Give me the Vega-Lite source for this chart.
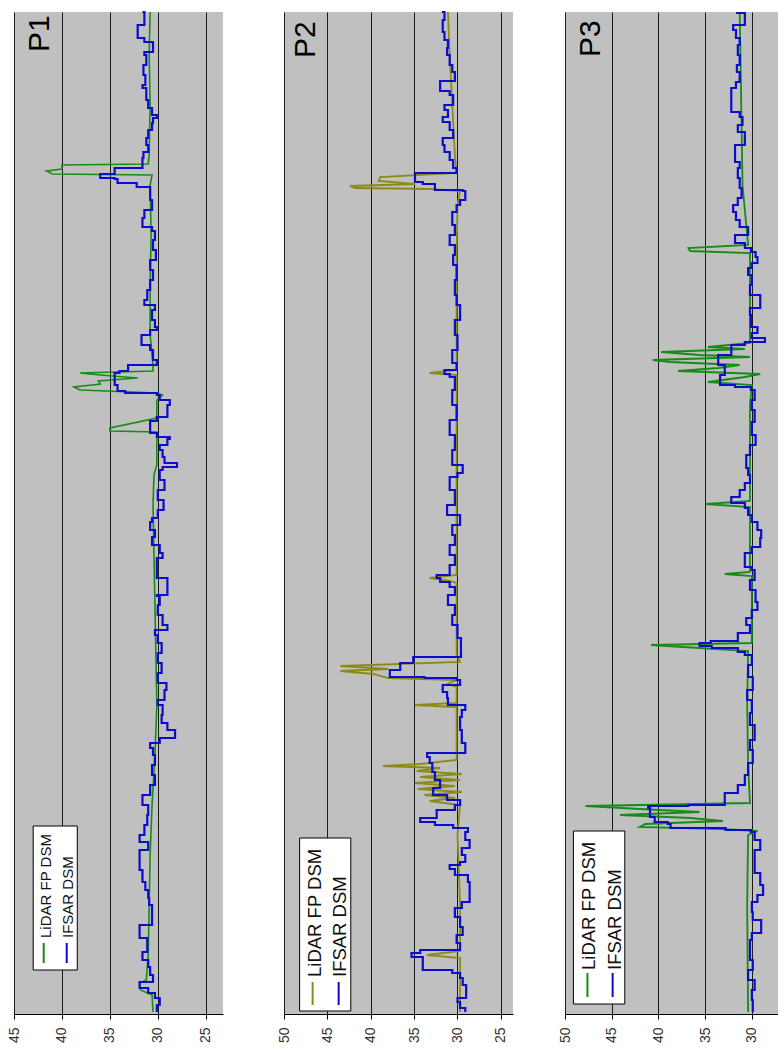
{
  "$schema": "https://vega.github.io/schema/vega-lite/v6.json",
  "background": "white",
  "autosize": {"type": "pad"},
  "padding": {"left": 7, "top": 7, "right": 0, "bottom": 0},
  "config": {
    "font": "Liberation Sans",
    "view": {"fill": "#c0c0c0", "stroke": null},
    "axisX": {
      "grid": true, "gridColor": "#1a1a1a", "gridWidth": 1, "gridOpacity": 1,
      "domainColor": "#000000", "tickColor": "#000000", "tickSize": 5,
      "labelAngle": 270, "labelFont": "Liberation Sans", "labelFontSize": 14,
      "labelColor": "#333333", "labelPadding": 8
    }
  },
  "datasets": {
    "p1_lidar": [
      {"dist": 1002, "elev": 30.8}, {"dist": 959, "elev": 30.9}, {"dist": 909, "elev": 30.8}, {"dist": 859, "elev": 30.9},
      {"dist": 850, "elev": 31.0}, {"dist": 849, "elev": 40.0}, {"dist": 845, "elev": 40.0}, {"dist": 843, "elev": 41.6},
      {"dist": 840, "elev": 41.0}, {"dist": 839, "elev": 30.6}, {"dist": 829, "elev": 30.8}, {"dist": 779, "elev": 30.7},
      {"dist": 729, "elev": 30.8}, {"dist": 679, "elev": 30.8}, {"dist": 649, "elev": 30.5}, {"dist": 643, "elev": 30.5},
      {"dist": 641, "elev": 38.1}, {"dist": 639, "elev": 36.0}, {"dist": 636, "elev": 32.1}, {"dist": 633, "elev": 36.2},
      {"dist": 630, "elev": 36.0}, {"dist": 627, "elev": 38.75}, {"dist": 624, "elev": 38.1}, {"dist": 621, "elev": 30.1},
      {"dist": 619, "elev": 29.5}, {"dist": 614, "elev": 30.1}, {"dist": 596, "elev": 30.1}, {"dist": 586, "elev": 35.0},
      {"dist": 583, "elev": 35.0}, {"dist": 582, "elev": 30.1}, {"dist": 549, "elev": 30.1}, {"dist": 539, "elev": 30.4},
      {"dist": 509, "elev": 30.5}, {"dist": 459, "elev": 30.4}, {"dist": 409, "elev": 30.3}, {"dist": 359, "elev": 30.2},
      {"dist": 309, "elev": 30.1}, {"dist": 259, "elev": 30.3}, {"dist": 209, "elev": 30.6}, {"dist": 159, "elev": 30.8},
      {"dist": 109, "elev": 30.9}, {"dist": 59, "elev": 31.0}, {"dist": 34, "elev": 31.2}, {"dist": 31, "elev": 31.9},
      {"dist": 24, "elev": 31.8}, {"dist": 19, "elev": 30.6}, {"dist": 2, "elev": 30.5}
    ],
    "p1_ifsar": [
      {"dist": 1002, "elev": 31.6}, {"dist": 999, "elev": 31.4}, {"dist": 989, "elev": 31.4}, {"dist": 982, "elev": 32.1},
      {"dist": 976, "elev": 32.1}, {"dist": 972, "elev": 31.4}, {"dist": 969, "elev": 30.5}, {"dist": 962, "elev": 30.5},
      {"dist": 959, "elev": 31.4}, {"dist": 949, "elev": 31.2}, {"dist": 939, "elev": 31.5}, {"dist": 929, "elev": 31.3},
      {"dist": 926, "elev": 31.6}, {"dist": 914, "elev": 31.2}, {"dist": 906, "elev": 31.0}, {"dist": 899, "elev": 30.6},
      {"dist": 896, "elev": 30.1}, {"dist": 891, "elev": 30.5}, {"dist": 884, "elev": 30.6}, {"dist": 876, "elev": 31.0},
      {"dist": 869, "elev": 31.2}, {"dist": 862, "elev": 31.0}, {"dist": 856, "elev": 31.5}, {"dist": 849, "elev": 31.6},
      {"dist": 846, "elev": 31.6}, {"dist": 845, "elev": 34.5}, {"dist": 840, "elev": 34.5}, {"dist": 839, "elev": 36.0},
      {"dist": 836, "elev": 36.0}, {"dist": 835, "elev": 34.5}, {"dist": 831, "elev": 34.2}, {"dist": 829, "elev": 32.2},
      {"dist": 827, "elev": 32.2}, {"dist": 826, "elev": 30.8}, {"dist": 814, "elev": 30.8}, {"dist": 804, "elev": 30.6},
      {"dist": 796, "elev": 31.4}, {"dist": 787, "elev": 31.6}, {"dist": 783, "elev": 30.6}, {"dist": 774, "elev": 30.3},
      {"dist": 764, "elev": 30.5}, {"dist": 754, "elev": 30.2}, {"dist": 744, "elev": 30.8}, {"dist": 734, "elev": 30.5},
      {"dist": 724, "elev": 30.8}, {"dist": 714, "elev": 31.1}, {"dist": 709, "elev": 31.4}, {"dist": 704, "elev": 30.3},
      {"dist": 694, "elev": 30.6}, {"dist": 687, "elev": 30.3}, {"dist": 684, "elev": 30.1}, {"dist": 679, "elev": 30.8},
      {"dist": 676, "elev": 31.7}, {"dist": 669, "elev": 31.7}, {"dist": 664, "elev": 30.8}, {"dist": 654, "elev": 30.5},
      {"dist": 649, "elev": 30.1}, {"dist": 647, "elev": 33.1}, {"dist": 643, "elev": 33.1}, {"dist": 641, "elev": 34.0},
      {"dist": 638, "elev": 34.5}, {"dist": 629, "elev": 34.5}, {"dist": 623, "elev": 34.2}, {"dist": 621, "elev": 33.4},
      {"dist": 619, "elev": 30.1}, {"dist": 614, "elev": 29.8}, {"dist": 609, "elev": 28.75}, {"dist": 597, "elev": 29.0},
      {"dist": 593, "elev": 30.1}, {"dist": 586, "elev": 30.8}, {"dist": 581, "elev": 30.8}, {"dist": 577, "elev": 30.1},
      {"dist": 575, "elev": 28.75}, {"dist": 569, "elev": 29.0}, {"dist": 564, "elev": 29.8}, {"dist": 557, "elev": 29.5},
      {"dist": 551, "elev": 29.3}, {"dist": 547, "elev": 28.0}, {"dist": 544, "elev": 29.5}, {"dist": 534, "elev": 29.8},
      {"dist": 524, "elev": 29.3}, {"dist": 514, "elev": 30.0}, {"dist": 504, "elev": 29.4}, {"dist": 496, "elev": 30.0},
      {"dist": 492, "elev": 30.6}, {"dist": 484, "elev": 30.8}, {"dist": 477, "elev": 30.3}, {"dist": 469, "elev": 30.6},
      {"dist": 461, "elev": 29.8}, {"dist": 456, "elev": 29.5}, {"dist": 447, "elev": 30.1}, {"dist": 436, "elev": 30.1},
      {"dist": 435, "elev": 29.0}, {"dist": 419, "elev": 29.0}, {"dist": 418, "elev": 30.1}, {"dist": 409, "elev": 29.8},
      {"dist": 399, "elev": 30.0}, {"dist": 389, "elev": 29.5}, {"dist": 384, "elev": 29.0}, {"dist": 379, "elev": 30.3},
      {"dist": 371, "elev": 30.0}, {"dist": 361, "elev": 29.6}, {"dist": 351, "elev": 30.0}, {"dist": 341, "elev": 29.6},
      {"dist": 331, "elev": 30.0}, {"dist": 324, "elev": 29.1}, {"dist": 314, "elev": 29.3}, {"dist": 309, "elev": 30.0},
      {"dist": 299, "elev": 29.5}, {"dist": 291, "elev": 29.6}, {"dist": 284, "elev": 29.0}, {"dist": 276, "elev": 28.2},
      {"dist": 271, "elev": 29.8}, {"dist": 266, "elev": 30.8}, {"dist": 259, "elev": 30.5}, {"dist": 249, "elev": 30.3},
      {"dist": 239, "elev": 30.6}, {"dist": 229, "elev": 30.3}, {"dist": 219, "elev": 30.8}, {"dist": 209, "elev": 31.6},
      {"dist": 199, "elev": 31.0}, {"dist": 189, "elev": 31.1}, {"dist": 179, "elev": 31.4}, {"dist": 172, "elev": 31.9},
      {"dist": 164, "elev": 31.0}, {"dist": 157, "elev": 31.9}, {"dist": 144, "elev": 31.9}, {"dist": 132, "elev": 31.6},
      {"dist": 124, "elev": 31.3}, {"dist": 116, "elev": 31.0}, {"dist": 109, "elev": 30.9}, {"dist": 102, "elev": 30.6},
      {"dist": 89, "elev": 30.6}, {"dist": 82, "elev": 31.9}, {"dist": 76, "elev": 31.9}, {"dist": 69, "elev": 31.1},
      {"dist": 62, "elev": 31.1}, {"dist": 54, "elev": 31.6}, {"dist": 47, "elev": 31.0}, {"dist": 39, "elev": 30.8},
      {"dist": 32, "elev": 30.5}, {"dist": 26, "elev": 31.9}, {"dist": 21, "elev": 31.0}, {"dist": 16, "elev": 30.3},
      {"dist": 9, "elev": 29.8}, {"dist": 2, "elev": 30.1}
    ],
    "p2_lidar": [
      {"dist": 1002, "elev": 31.1}, {"dist": 959, "elev": 30.9}, {"dist": 909, "elev": 30.6}, {"dist": 859, "elev": 30.3},
      {"dist": 841, "elev": 30.1}, {"dist": 837, "elev": 38.9}, {"dist": 833, "elev": 39.1}, {"dist": 830, "elev": 34.9},
      {"dist": 828, "elev": 42.4}, {"dist": 826, "elev": 41.8}, {"dist": 825, "elev": 33.2}, {"dist": 823, "elev": 29.7},
      {"dist": 809, "elev": 30.0}, {"dist": 759, "elev": 30.1}, {"dist": 709, "elev": 30.1}, {"dist": 644, "elev": 30.1},
      {"dist": 641, "elev": 33.2}, {"dist": 639, "elev": 30.1}, {"dist": 559, "elev": 30.1}, {"dist": 489, "elev": 30.1},
      {"dist": 439, "elev": 30.1}, {"dist": 436, "elev": 33.2}, {"dist": 433, "elev": 30.9}, {"dist": 431, "elev": 30.1},
      {"dist": 359, "elev": 30.1}, {"dist": 352, "elev": 29.7}, {"dist": 348, "elev": 43.5}, {"dist": 345, "elev": 38.0},
      {"dist": 343, "elev": 43.5}, {"dist": 340, "elev": 39.7}, {"dist": 336, "elev": 38.0}, {"dist": 334, "elev": 30.1},
      {"dist": 330, "elev": 31.1}, {"dist": 327, "elev": 30.1}, {"dist": 311, "elev": 30.1}, {"dist": 309, "elev": 34.9},
      {"dist": 307, "elev": 30.1}, {"dist": 254, "elev": 30.1}, {"dist": 250, "elev": 34.3}, {"dist": 248, "elev": 38.6},
      {"dist": 246, "elev": 32.0}, {"dist": 243, "elev": 34.7}, {"dist": 240, "elev": 29.5}, {"dist": 237, "elev": 34.3},
      {"dist": 234, "elev": 29.7}, {"dist": 231, "elev": 34.9}, {"dist": 228, "elev": 30.3}, {"dist": 225, "elev": 34.6},
      {"dist": 222, "elev": 29.5}, {"dist": 219, "elev": 33.8}, {"dist": 216, "elev": 30.3}, {"dist": 213, "elev": 33.2},
      {"dist": 209, "elev": 29.7}, {"dist": 179, "elev": 30.0}, {"dist": 109, "elev": 29.7}, {"dist": 63, "elev": 29.7},
      {"dist": 59, "elev": 33.5}, {"dist": 56, "elev": 29.7}, {"dist": 2, "elev": 29.7}
    ],
    "p2_ifsar": [
      {"dist": 1002, "elev": 31.8}, {"dist": 994, "elev": 31.5}, {"dist": 982, "elev": 31.7}, {"dist": 974, "elev": 31.5},
      {"dist": 966, "elev": 31.1}, {"dist": 959, "elev": 31.2}, {"dist": 949, "elev": 30.9}, {"dist": 942, "elev": 30.6},
      {"dist": 937, "elev": 30.3}, {"dist": 933, "elev": 30.3}, {"dist": 931, "elev": 32.0}, {"dist": 923, "elev": 32.0},
      {"dist": 919, "elev": 30.9}, {"dist": 909, "elev": 30.5}, {"dist": 904, "elev": 31.5}, {"dist": 897, "elev": 31.1},
      {"dist": 892, "elev": 31.7}, {"dist": 884, "elev": 30.9}, {"dist": 876, "elev": 30.5}, {"dist": 869, "elev": 31.7},
      {"dist": 862, "elev": 31.5}, {"dist": 854, "elev": 30.9}, {"dist": 846, "elev": 30.5}, {"dist": 841, "elev": 30.1},
      {"dist": 839, "elev": 34.9}, {"dist": 832, "elev": 34.9}, {"dist": 830, "elev": 34.0}, {"dist": 827, "elev": 32.6},
      {"dist": 824, "elev": 32.6}, {"dist": 823, "elev": 29.4}, {"dist": 814, "elev": 29.1}, {"dist": 809, "elev": 29.7},
      {"dist": 802, "elev": 30.1}, {"dist": 789, "elev": 30.6}, {"dist": 779, "elev": 30.3}, {"dist": 769, "elev": 30.9},
      {"dist": 759, "elev": 30.3}, {"dist": 749, "elev": 30.5}, {"dist": 734, "elev": 30.1}, {"dist": 719, "elev": 30.3},
      {"dist": 709, "elev": 30.1}, {"dist": 694, "elev": 29.7}, {"dist": 679, "elev": 30.3}, {"dist": 664, "elev": 30.0},
      {"dist": 651, "elev": 30.6}, {"dist": 644, "elev": 30.1}, {"dist": 640, "elev": 31.5}, {"dist": 637, "elev": 30.9},
      {"dist": 624, "elev": 30.3}, {"dist": 609, "elev": 30.6}, {"dist": 594, "elev": 30.1}, {"dist": 579, "elev": 30.9},
      {"dist": 564, "elev": 30.3}, {"dist": 549, "elev": 30.6}, {"dist": 541, "elev": 29.4}, {"dist": 537, "elev": 30.0},
      {"dist": 524, "elev": 30.9}, {"dist": 509, "elev": 30.3}, {"dist": 499, "elev": 31.2}, {"dist": 489, "elev": 29.7},
      {"dist": 479, "elev": 30.6}, {"dist": 469, "elev": 30.3}, {"dist": 459, "elev": 30.9}, {"dist": 449, "elev": 30.3},
      {"dist": 439, "elev": 30.9}, {"dist": 436, "elev": 32.4}, {"dist": 432, "elev": 32.0}, {"dist": 427, "elev": 30.9},
      {"dist": 419, "elev": 30.3}, {"dist": 409, "elev": 31.1}, {"dist": 399, "elev": 30.3}, {"dist": 389, "elev": 30.6},
      {"dist": 376, "elev": 30.0}, {"dist": 364, "elev": 29.6}, {"dist": 357, "elev": 29.6}, {"dist": 356, "elev": 35.1},
      {"dist": 351, "elev": 35.1}, {"dist": 350, "elev": 36.6}, {"dist": 344, "elev": 36.6}, {"dist": 342, "elev": 37.8},
      {"dist": 337, "elev": 37.8}, {"dist": 336, "elev": 33.8}, {"dist": 334, "elev": 30.1}, {"dist": 329, "elev": 29.7},
      {"dist": 322, "elev": 31.7}, {"dist": 316, "elev": 31.2}, {"dist": 309, "elev": 31.1}, {"dist": 304, "elev": 29.1},
      {"dist": 297, "elev": 29.5}, {"dist": 284, "elev": 29.7}, {"dist": 271, "elev": 29.5}, {"dist": 261, "elev": 29.1},
      {"dist": 257, "elev": 33.5}, {"dist": 251, "elev": 33.2}, {"dist": 242, "elev": 32.9}, {"dist": 234, "elev": 32.6},
      {"dist": 226, "elev": 32.0}, {"dist": 219, "elev": 32.8}, {"dist": 214, "elev": 31.2}, {"dist": 209, "elev": 29.7},
      {"dist": 204, "elev": 30.3}, {"dist": 199, "elev": 32.4}, {"dist": 196, "elev": 32.4}, {"dist": 192, "elev": 34.3},
      {"dist": 189, "elev": 32.6}, {"dist": 186, "elev": 30.5}, {"dist": 182, "elev": 28.8}, {"dist": 174, "elev": 29.1},
      {"dist": 166, "elev": 28.6}, {"dist": 159, "elev": 29.5}, {"dist": 152, "elev": 29.1}, {"dist": 149, "elev": 29.7},
      {"dist": 145, "elev": 30.9}, {"dist": 139, "elev": 30.3}, {"dist": 132, "elev": 28.8}, {"dist": 124, "elev": 28.6},
      {"dist": 112, "elev": 28.6}, {"dist": 106, "elev": 29.5}, {"dist": 97, "elev": 30.3}, {"dist": 87, "elev": 29.7},
      {"dist": 79, "elev": 29.4}, {"dist": 71, "elev": 30.1}, {"dist": 64, "elev": 29.7}, {"dist": 61, "elev": 34.3},
      {"dist": 57, "elev": 35.3}, {"dist": 53, "elev": 34.0}, {"dist": 44, "elev": 34.0}, {"dist": 41, "elev": 30.6},
      {"dist": 36, "elev": 29.7}, {"dist": 29, "elev": 29.4}, {"dist": 24, "elev": 29.0}, {"dist": 16, "elev": 29.0},
      {"dist": 12, "elev": 30.0}, {"dist": 6, "elev": 29.7}, {"dist": 2, "elev": 29.1}
    ],
    "p3_lidar": [
      {"dist": 1001, "elev": 31.3}, {"dist": 949, "elev": 31.2}, {"dist": 889, "elev": 31.1}, {"dist": 829, "elev": 31.0},
      {"dist": 779, "elev": 30.5}, {"dist": 769, "elev": 30.4}, {"dist": 766, "elev": 36.8}, {"dist": 763, "elev": 36.6},
      {"dist": 761, "elev": 30.2}, {"dist": 709, "elev": 30.2}, {"dist": 671, "elev": 30.2}, {"dist": 667, "elev": 34.7},
      {"dist": 665, "elev": 30.75}, {"dist": 662, "elev": 39.7}, {"dist": 659, "elev": 35.6}, {"dist": 657, "elev": 30.2},
      {"dist": 654, "elev": 40.6}, {"dist": 652, "elev": 38.7}, {"dist": 649, "elev": 31.3}, {"dist": 646, "elev": 33.6},
      {"dist": 643, "elev": 37.9}, {"dist": 640, "elev": 29.1}, {"dist": 637, "elev": 30.75}, {"dist": 632, "elev": 34.7},
      {"dist": 629, "elev": 30.0}, {"dist": 609, "elev": 30.2}, {"dist": 513, "elev": 30.2}, {"dist": 510, "elev": 34.9},
      {"dist": 507, "elev": 30.2}, {"dist": 442, "elev": 30.2}, {"dist": 440, "elev": 32.9}, {"dist": 438, "elev": 30.0},
      {"dist": 371, "elev": 30.0}, {"dist": 369, "elev": 40.8}, {"dist": 366, "elev": 35.6}, {"dist": 363, "elev": 30.4},
      {"dist": 309, "elev": 30.5}, {"dist": 249, "elev": 30.4}, {"dist": 211, "elev": 30.2}, {"dist": 208, "elev": 47.8},
      {"dist": 205, "elev": 42.0}, {"dist": 202, "elev": 35.6}, {"dist": 199, "elev": 44.1}, {"dist": 196, "elev": 36.6},
      {"dist": 193, "elev": 33.1}, {"dist": 190, "elev": 41.4}, {"dist": 187, "elev": 42.0}, {"dist": 185, "elev": 33.4},
      {"dist": 183, "elev": 29.4}, {"dist": 179, "elev": 30.4}, {"dist": 109, "elev": 30.5}, {"dist": 2, "elev": 30.4}
    ],
    "p3_ifsar": [
      {"dist": 1001, "elev": 31.7}, {"dist": 996, "elev": 30.75}, {"dist": 989, "elev": 30.75}, {"dist": 984, "elev": 32.0},
      {"dist": 976, "elev": 31.7}, {"dist": 969, "elev": 31.3}, {"dist": 959, "elev": 31.5}, {"dist": 949, "elev": 31.3},
      {"dist": 942, "elev": 31.6}, {"dist": 932, "elev": 31.3}, {"dist": 926, "elev": 31.7}, {"dist": 916, "elev": 32.2},
      {"dist": 902, "elev": 32.2}, {"dist": 897, "elev": 31.3}, {"dist": 889, "elev": 31.0}, {"dist": 882, "elev": 31.5},
      {"dist": 876, "elev": 30.75}, {"dist": 869, "elev": 30.75}, {"dist": 866, "elev": 31.8}, {"dist": 852, "elev": 31.8},
      {"dist": 846, "elev": 31.3}, {"dist": 836, "elev": 31.5}, {"dist": 826, "elev": 31.3}, {"dist": 816, "elev": 31.1},
      {"dist": 809, "elev": 31.5}, {"dist": 802, "elev": 32.0}, {"dist": 794, "elev": 31.7}, {"dist": 787, "elev": 31.3},
      {"dist": 779, "elev": 30.4}, {"dist": 771, "elev": 31.8}, {"dist": 766, "elev": 30.75}, {"dist": 762, "elev": 30.1},
      {"dist": 757, "elev": 29.6}, {"dist": 751, "elev": 29.4}, {"dist": 746, "elev": 30.0}, {"dist": 739, "elev": 30.4},
      {"dist": 729, "elev": 30.0}, {"dist": 719, "elev": 30.2}, {"dist": 711, "elev": 29.1}, {"dist": 706, "elev": 29.1},
      {"dist": 699, "elev": 30.2}, {"dist": 687, "elev": 30.1}, {"dist": 681, "elev": 29.4}, {"dist": 676, "elev": 30.0},
      {"dist": 672, "elev": 28.6}, {"dist": 669, "elev": 30.75}, {"dist": 663, "elev": 32.2}, {"dist": 659, "elev": 32.2},
      {"dist": 656, "elev": 33.6}, {"dist": 649, "elev": 33.6}, {"dist": 646, "elev": 32.9}, {"dist": 639, "elev": 32.9},
      {"dist": 636, "elev": 33.4}, {"dist": 629, "elev": 33.4}, {"dist": 627, "elev": 31.8}, {"dist": 624, "elev": 30.1},
      {"dist": 614, "elev": 29.7}, {"dist": 604, "elev": 30.0}, {"dist": 592, "elev": 29.7}, {"dist": 579, "elev": 30.0},
      {"dist": 569, "elev": 29.6}, {"dist": 559, "elev": 30.2}, {"dist": 546, "elev": 30.6}, {"dist": 539, "elev": 30.4},
      {"dist": 531, "elev": 30.2}, {"dist": 524, "elev": 30.75}, {"dist": 517, "elev": 31.3}, {"dist": 511, "elev": 32.2},
      {"dist": 506, "elev": 30.75}, {"dist": 499, "elev": 30.4}, {"dist": 492, "elev": 30.0}, {"dist": 484, "elev": 29.4},
      {"dist": 476, "elev": 29.0}, {"dist": 467, "elev": 29.1}, {"dist": 461, "elev": 30.0}, {"dist": 458, "elev": 30.75},
      {"dist": 447, "elev": 30.75}, {"dist": 444, "elev": 30.0}, {"dist": 434, "elev": 29.7}, {"dist": 424, "elev": 30.2},
      {"dist": 412, "elev": 29.6}, {"dist": 404, "elev": 29.4}, {"dist": 396, "elev": 30.0}, {"dist": 389, "elev": 30.6},
      {"dist": 381, "elev": 30.2}, {"dist": 377, "elev": 31.5}, {"dist": 373, "elev": 31.5}, {"dist": 371, "elev": 34.4},
      {"dist": 368, "elev": 35.6}, {"dist": 366, "elev": 34.3}, {"dist": 362, "elev": 31.5}, {"dist": 359, "elev": 30.75},
      {"dist": 349, "elev": 30.0}, {"dist": 337, "elev": 30.4}, {"dist": 324, "elev": 29.9}, {"dist": 314, "elev": 30.5},
      {"dist": 301, "elev": 30.0}, {"dist": 289, "elev": 30.2}, {"dist": 274, "elev": 29.7}, {"dist": 264, "elev": 30.2},
      {"dist": 251, "elev": 29.9}, {"dist": 239, "elev": 30.4}, {"dist": 229, "elev": 30.75}, {"dist": 221, "elev": 31.5},
      {"dist": 216, "elev": 32.9}, {"dist": 209, "elev": 32.9}, {"dist": 208, "elev": 36.8}, {"dist": 206, "elev": 41.1},
      {"dist": 197, "elev": 40.9}, {"dist": 192, "elev": 40.4}, {"dist": 190, "elev": 39.0}, {"dist": 186, "elev": 38.7},
      {"dist": 184, "elev": 32.8}, {"dist": 182, "elev": 30.1}, {"dist": 174, "elev": 29.7}, {"dist": 164, "elev": 29.1},
      {"dist": 154, "elev": 29.7}, {"dist": 141, "elev": 29.7}, {"dist": 129, "elev": 29.1}, {"dist": 119, "elev": 28.8},
      {"dist": 112, "elev": 29.4}, {"dist": 102, "elev": 30.0}, {"dist": 94, "elev": 29.9}, {"dist": 89, "elev": 29.0},
      {"dist": 81, "elev": 29.0}, {"dist": 74, "elev": 30.0}, {"dist": 64, "elev": 30.2}, {"dist": 54, "elev": 30.2},
      {"dist": 44, "elev": 29.9}, {"dist": 34, "elev": 30.4}, {"dist": 24, "elev": 29.7}, {"dist": 14, "elev": 30.0},
      {"dist": 2, "elev": 29.9}
    ]
  },
  "bounds": "flush",
  "spacing": 61,
  "hconcat": [
    {
      "width": 209,
      "height": 1002,
      "layer": [
        {
          "data": {"name": "p1_lidar"},
          "mark": {"type": "line", "color": "#158c15", "strokeWidth": 1.6},
          "encoding": {
            "x": {"field": "elev", "type": "quantitative", "scale": {"domain": [23.2, 45], "reverse": true, "nice": false, "zero": false}, "axis": {"values": [45, 40, 35, 30, 25], "title": null}},
            "y": {"field": "dist", "type": "quantitative", "scale": {"domain": [0, 1002], "nice": false, "zero": false}, "axis": null},
            "order": {"field": "dist"}
          }
        },
        {
          "data": {"name": "p1_ifsar"},
          "mark": {"type": "line", "color": "#0c0ccc", "strokeWidth": 2.2, "interpolate": "step-before"},
          "encoding": {
            "x": {"field": "elev", "type": "quantitative"},
            "y": {"field": "dist", "type": "quantitative"},
            "order": {"field": "dist"}
          }
        },
        {
          "data": {"values": [{}]},
          "mark": {"type": "rect", "fill": "white", "stroke": "black", "strokeWidth": 1},
          "encoding": {"x": {"datum": 43.0}, "x2": {"datum": 38.4}, "y": {"datum": 44}, "y2": {"datum": 188}}
        },
        {
          "data": {"values": [{}]},
          "mark": {"type": "rule", "color": "#158c15", "strokeWidth": 2},
          "encoding": {"x": {"datum": 41.9}, "y": {"datum": 51}, "y2": {"datum": 71}}
        },
        {
          "data": {"values": [{}]},
          "mark": {"type": "rule", "color": "#0c0ccc", "strokeWidth": 2},
          "encoding": {"x": {"datum": 39.5}, "y": {"datum": 51}, "y2": {"datum": 71}}
        },
        {
          "data": {"values": [{}]},
          "mark": {"type": "text", "text": "LiDAR FP DSM", "angle": 270, "align": "left", "baseline": "middle", "fontSize": 15, "color": "#111111"},
          "encoding": {"x": {"datum": 41.7}, "y": {"datum": 76}}
        },
        {
          "data": {"values": [{}]},
          "mark": {"type": "text", "text": "IFSAR DSM", "angle": 270, "align": "left", "baseline": "middle", "fontSize": 15, "color": "#111111"},
          "encoding": {"x": {"datum": 39.4}, "y": {"datum": 76}}
        },
        {
          "data": {"values": [{}]},
          "mark": {"type": "text", "text": "P1", "angle": 270, "align": "left", "baseline": "middle", "fontSize": 30, "color": "#000000"},
          "encoding": {"x": {"datum": 42.3}, "y": {"datum": 962}}
        }
      ]
    },
    {
      "bounds": "flush",
      "spacing": 52,
      "hconcat": [
        {
          "width": 229,
          "height": 1002,
          "layer": [
            {
              "data": {"name": "p2_lidar"},
              "mark": {"type": "line", "color": "#8a8a16", "strokeWidth": 1.8},
              "encoding": {
                "x": {"field": "elev", "type": "quantitative", "scale": {"domain": [23.6, 50], "reverse": true, "nice": false, "zero": false}, "axis": {"values": [50, 45, 40, 35, 30, 25], "title": null}},
                "y": {"field": "dist", "type": "quantitative", "scale": {"domain": [0, 1002], "nice": false, "zero": false}, "axis": null},
                "order": {"field": "dist"}
              }
            },
            {
              "data": {"name": "p2_ifsar"},
              "mark": {"type": "line", "color": "#0c0ccc", "strokeWidth": 2.2, "interpolate": "step-before"},
              "encoding": {
                "x": {"field": "elev", "type": "quantitative"},
                "y": {"field": "dist", "type": "quantitative"},
                "order": {"field": "dist"}
              }
            },
            {
              "data": {"values": [{}]},
              "mark": {"type": "rect", "fill": "white", "stroke": "black", "strokeWidth": 1},
              "encoding": {"x": {"datum": 48.2}, "x2": {"datum": 42.3}, "y": {"datum": 3}, "y2": {"datum": 176}}
            },
            {
              "data": {"values": [{}]},
              "mark": {"type": "rule", "color": "#8a8a16", "strokeWidth": 2},
              "encoding": {"x": {"datum": 46.7}, "y": {"datum": 9}, "y2": {"datum": 32}}
            },
            {
              "data": {"values": [{}]},
              "mark": {"type": "rule", "color": "#0c0ccc", "strokeWidth": 2},
              "encoding": {"x": {"datum": 43.7}, "y": {"datum": 9}, "y2": {"datum": 32}}
            },
            {
              "data": {"values": [{}]},
              "mark": {"type": "text", "text": "LiDAR FP DSM", "angle": 270, "align": "left", "baseline": "middle", "fontSize": 18.5, "color": "#111111"},
              "encoding": {"x": {"datum": 46.4}, "y": {"datum": 37}}
            },
            {
              "data": {"values": [{}]},
              "mark": {"type": "text", "text": "IFSAR DSM", "angle": 270, "align": "left", "baseline": "middle", "fontSize": 18.5, "color": "#111111"},
              "encoding": {"x": {"datum": 43.5}, "y": {"datum": 37}}
            },
            {
              "data": {"values": [{}]},
              "mark": {"type": "text", "text": "P2", "angle": 270, "align": "left", "baseline": "middle", "fontSize": 30, "color": "#000000"},
              "encoding": {"x": {"datum": 47.5}, "y": {"datum": 956}}
            }
          ]
        },
        {
          "width": 213,
          "height": 1002,
          "layer": [
            {
              "data": {"name": "p3_lidar"},
              "mark": {"type": "line", "color": "#158c15", "strokeWidth": 1.8},
              "encoding": {
                "x": {"field": "elev", "type": "quantitative", "scale": {"domain": [27.2, 50], "reverse": true, "nice": false, "zero": false}, "axis": {"values": [50, 45, 40, 35, 30], "title": null}},
                "y": {"field": "dist", "type": "quantitative", "scale": {"domain": [0, 1002], "nice": false, "zero": false}, "axis": null},
                "order": {"field": "dist"}
              }
            },
            {
              "data": {"name": "p3_ifsar"},
              "mark": {"type": "line", "color": "#0c0ccc", "strokeWidth": 2.2, "interpolate": "step-before"},
              "encoding": {
                "x": {"field": "elev", "type": "quantitative"},
                "y": {"field": "dist", "type": "quantitative"},
                "order": {"field": "dist"}
              }
            },
            {
              "data": {"values": [{}]},
              "mark": {"type": "rect", "fill": "white", "stroke": "black", "strokeWidth": 1},
              "encoding": {"x": {"datum": 49.1}, "x2": {"datum": 43.6}, "y": {"datum": 10}, "y2": {"datum": 183}}
            },
            {
              "data": {"values": [{}]},
              "mark": {"type": "rule", "color": "#158c15", "strokeWidth": 2},
              "encoding": {"x": {"datum": 47.6}, "y": {"datum": 17}, "y2": {"datum": 41}}
            },
            {
              "data": {"values": [{}]},
              "mark": {"type": "rule", "color": "#0c0ccc", "strokeWidth": 2},
              "encoding": {"x": {"datum": 44.9}, "y": {"datum": 17}, "y2": {"datum": 41}}
            },
            {
              "data": {"values": [{}]},
              "mark": {"type": "text", "text": "LiDAR FP DSM", "angle": 270, "align": "left", "baseline": "middle", "fontSize": 18.5, "color": "#111111"},
              "encoding": {"x": {"datum": 47.4}, "y": {"datum": 44}}
            },
            {
              "data": {"values": [{}]},
              "mark": {"type": "text", "text": "IFSAR DSM", "angle": 270, "align": "left", "baseline": "middle", "fontSize": 18.5, "color": "#111111"},
              "encoding": {"x": {"datum": 44.7}, "y": {"datum": 44}}
            },
            {
              "data": {"values": [{}]},
              "mark": {"type": "text", "text": "P3", "angle": 270, "align": "left", "baseline": "middle", "fontSize": 30, "color": "#000000"},
              "encoding": {"x": {"datum": 47.2}, "y": {"datum": 957}}
            }
          ]
        }
      ]
    }
  ]
}
